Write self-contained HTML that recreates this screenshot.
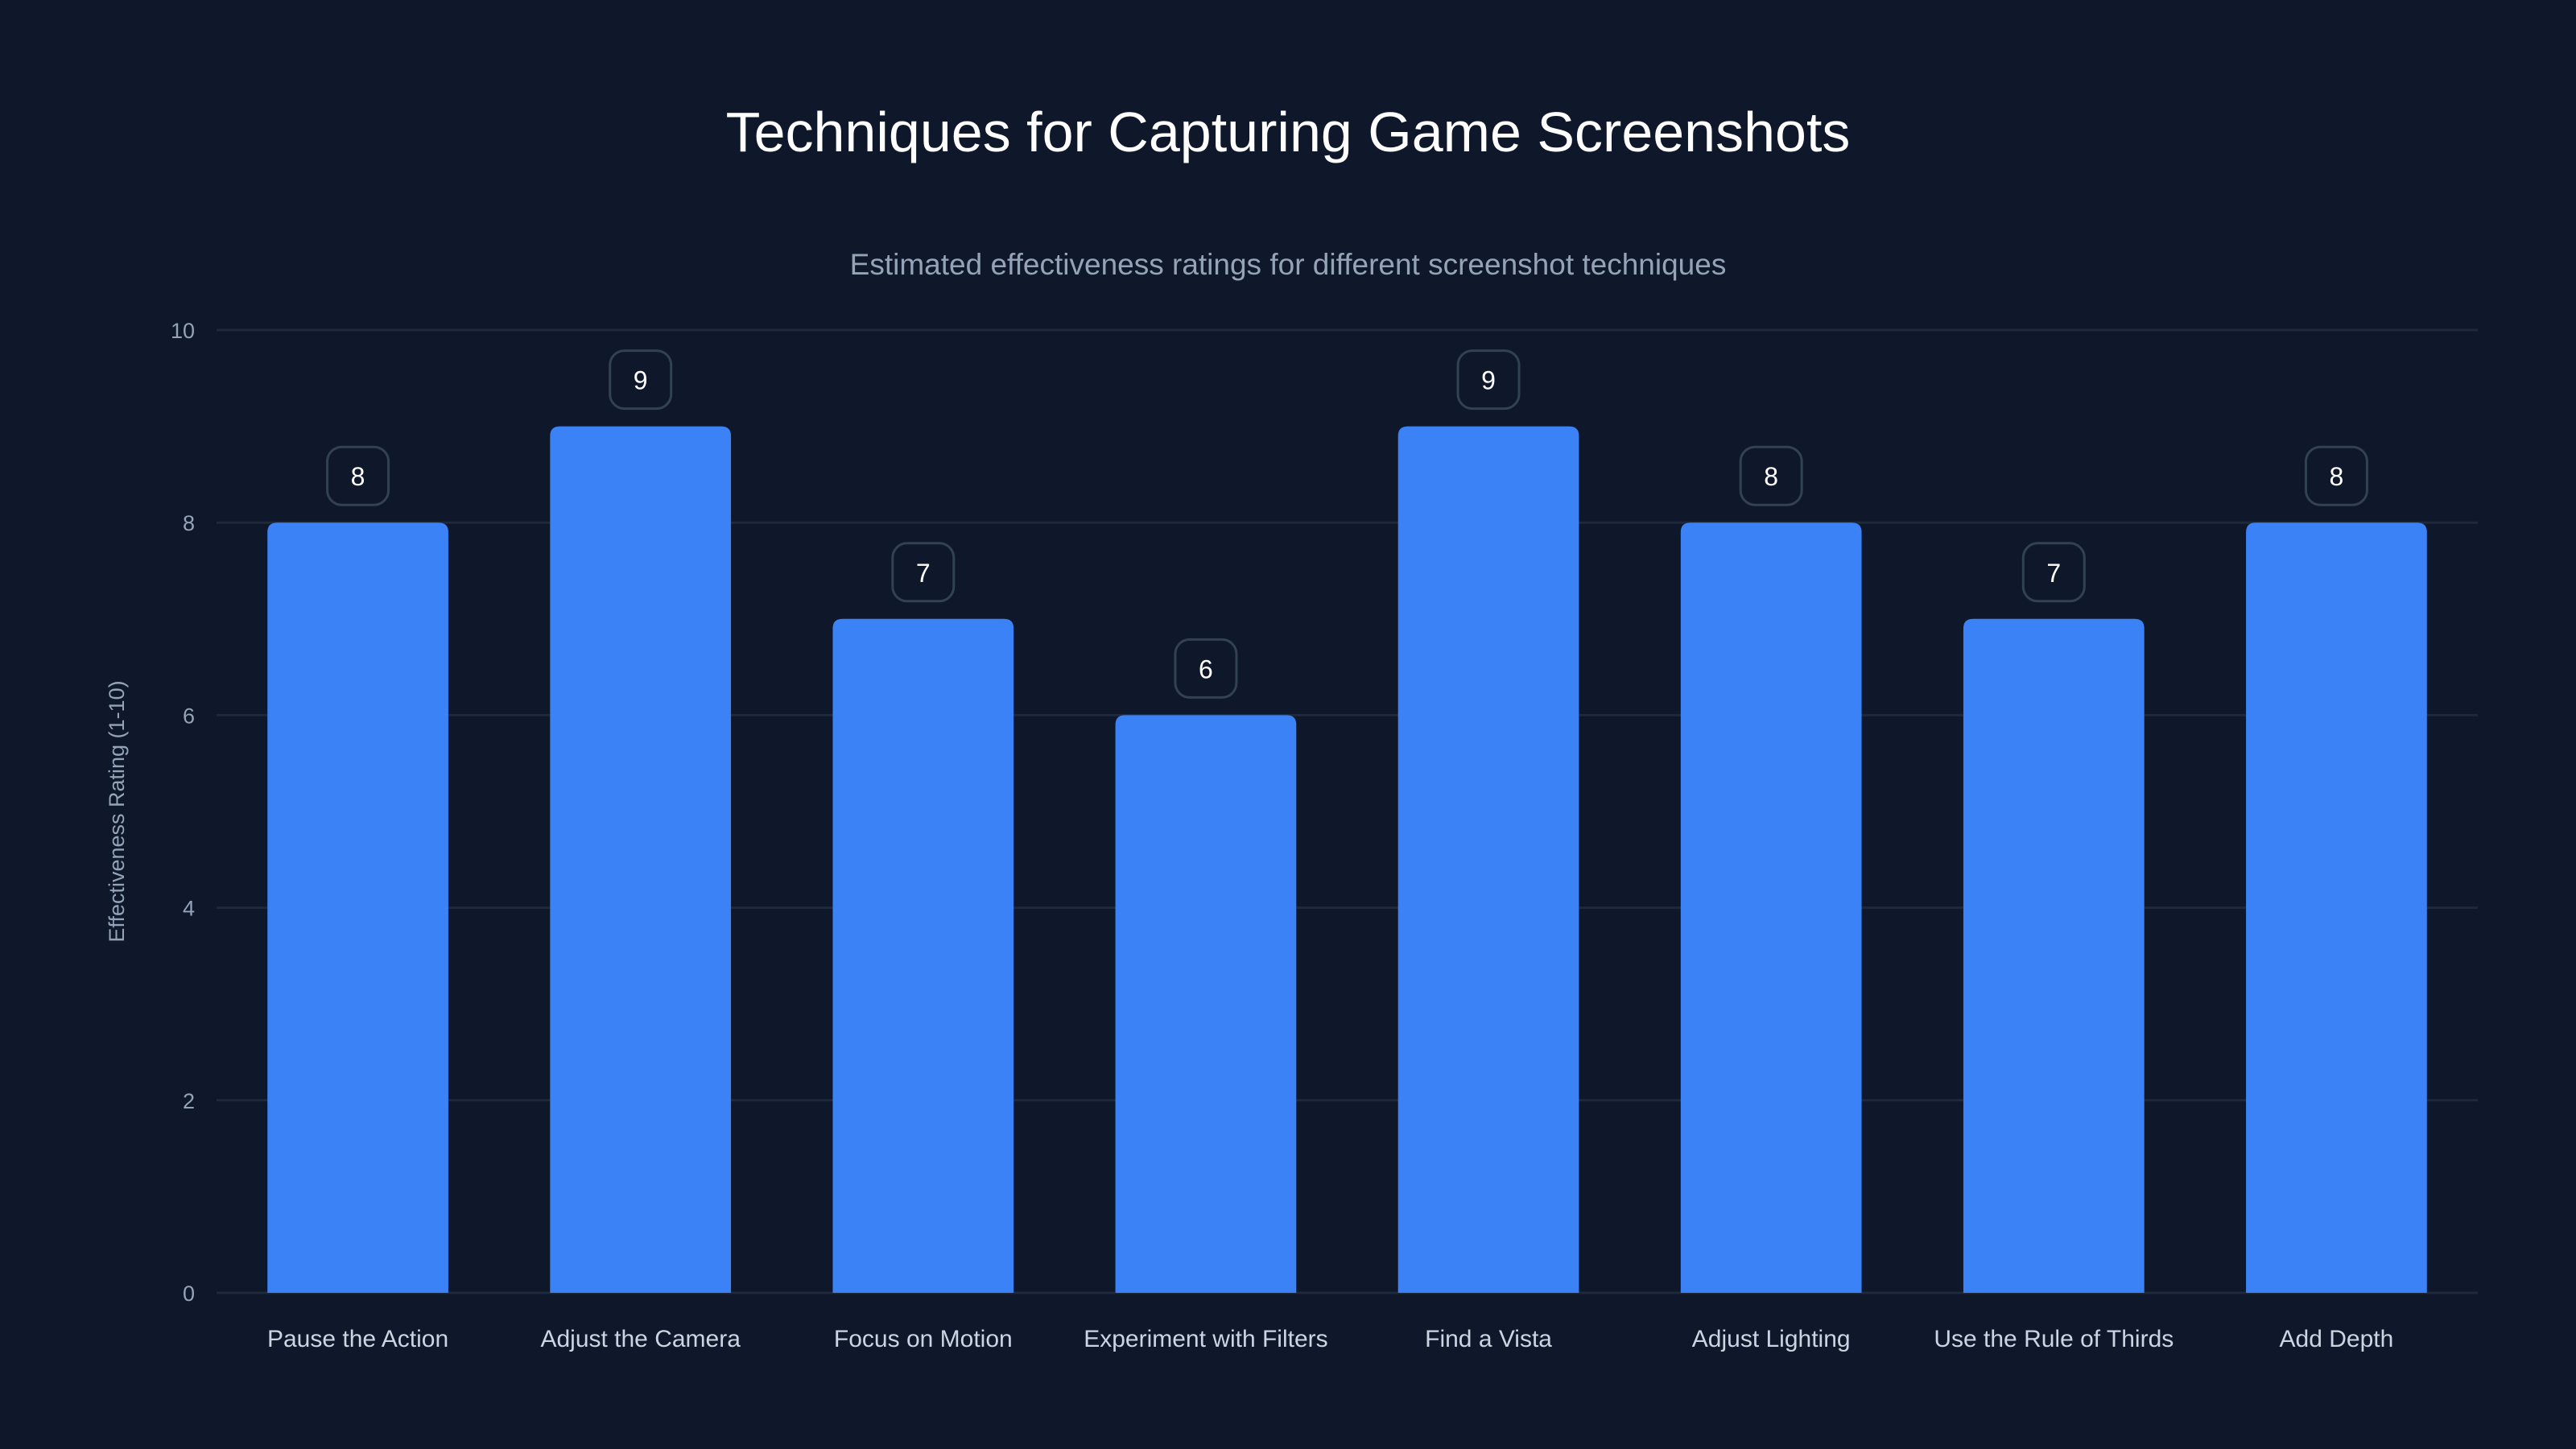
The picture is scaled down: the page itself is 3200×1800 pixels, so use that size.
<!DOCTYPE html>
<html><head><meta charset="utf-8"><style>
html,body{margin:0;padding:0;background:#0f172a;}
svg{display:block;font-family:"Liberation Sans",sans-serif;}
</style></head><body>
<svg id="chart" width="3200" height="1800" viewBox="0 0 3200 1800" xmlns="http://www.w3.org/2000/svg">
<rect width="3200" height="1800" fill="#0f172a"/>
<text x="1600" y="188" text-anchor="middle" fill="#ffffff" font-size="70">Techniques for Capturing Game Screenshots</text>
<text x="1600" y="341" text-anchor="middle" fill="#94a3b8" font-size="37">Estimated effectiveness ratings for different screenshot techniques</text>
<text transform="translate(154,1008) rotate(-90)" text-anchor="middle" fill="#94a3b8" font-size="27">Effectiveness Rating (1-10)</text>
<g id="grid"></g><g id="bars"></g>
</svg>
<script>
const categories=["Pause the Action","Adjust the Camera","Focus on Motion","Experiment with Filters","Find a Vista","Adjust Lighting","Use the Rule of Thirds","Add Depth"];
const values=[8,9,7,6,9,8,7,8];
const yTicks=[0,2,4,6,8,10];
const NS="http://www.w3.org/2000/svg";
const L=269,R=3078,T=410,B=1606,yMax=10;
const band=(R-L)/categories.length;
const y=v=>B-(v/yMax)*(B-T);
const xc=i=>L+band*(i+0.5);
function mk(tag,attrs,parent){const e=document.createElementNS(NS,tag);for(const k in attrs)e.setAttribute(k,attrs[k]);parent.appendChild(e);return e;}
const grid=document.getElementById('grid'),bars=document.getElementById('bars');
yTicks.forEach(t=>{
  const l=mk('line',{x1:L,x2:R,y1:y(t),y2:y(t),stroke:'#1e293b','stroke-width':3},grid);
  
  
  const tx=mk('text',{x:242,y:y(t)+10,'text-anchor':'end',fill:'#94a3b8','font-size':27},grid);
  tx.textContent=t;
  
  
});
const bw=band*0.64,r=12;
values.forEach((v,i)=>{
  const x0=xc(i)-bw/2,yt=y(v);
  const p=mk('path',{d:`M${x0},${B} V${yt+r} Q${x0},${yt} ${x0+r},${yt} H${x0+bw-r} Q${x0+bw},${yt} ${x0+bw},${yt+r} V${B} Z`,fill:'#3b82f6'},bars);
  
  
  const bx=mk('rect',{x:xc(i)-38,y:yt-94,width:76,height:72,rx:18,fill:'#0f172a',stroke:'#334155','stroke-width':3},bars);
  
  
  const vt=mk('text',{x:xc(i),y:yt-46,'text-anchor':'middle',fill:'#ffffff','font-size':32},bars);
  vt.textContent=v;
  
  
  const ct=mk('text',{x:xc(i),y:1673,'text-anchor':'middle',fill:'#cbd5e1','font-size':30},bars);
  ct.textContent=categories[i];
  
  
});
</script>
</body></html>
